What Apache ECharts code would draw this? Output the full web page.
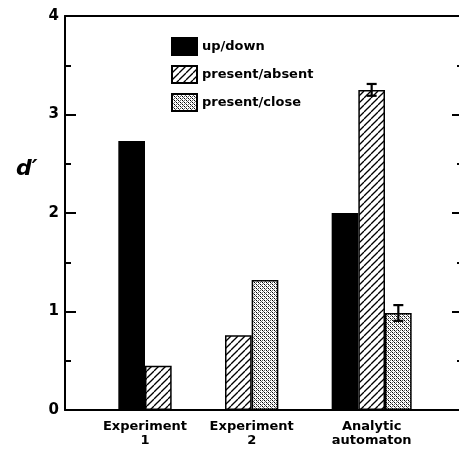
<!DOCTYPE html>
<html><head><meta charset="utf-8">
<script src="https://cdn.jsdelivr.net/npm/echarts@6/dist/echarts.min.js"></script>
<style>html,body{margin:0;padding:0;background:#fff}#c{width:459px;height:454px}</style>
</head><body><div id="c"></div>
<script>
const categories = ['Experiment\n1', 'Experiment\n2', 'Analytic\nautomaton'];
const seriesNames = ['up/down', 'present/absent', 'present/close'];
const upDown = [2.73, null, 2.0];
const presentAbsent = [0.45, 0.76, 3.25];
const presentClose = [null, 1.32, 0.985];
const presentAbsentErr = [null, null, 0.06];
const presentCloseErr = [null, null, 0.08];
const yTicks = [0, 1, 2, 3, 4];

const values = [upDown, presentAbsent, presentClose];
const errs = [null, presentAbsentErr, presentCloseErr];

const MARGIN = 2, GAP = 2;
let pos = MARGIN;
const barData = [[], [], []];
const errData = [];
const labelPos = [];
categories.forEach((c, g) => {
  const xs = [];
  values.forEach((arr, s) => {
    if (arr[g] != null) {
      const x = pos + 0.5;
      barData[s].push([x, arr[g]]);
      xs.push(x);
      if (errs[s] && errs[s][g] != null) errData.push([x, arr[g] - errs[s][g], arr[g] + errs[s][g]]);
      pos++;
    }
  });
  labelPos.push((xs[0] + xs[xs.length - 1]) / 2);
  pos += GAP;
});
const xMax = pos;

function makePattern(kind) {
  const cv = document.createElement('canvas');
  const ctx = cv.getContext('2d');
  if (kind === 'hatch') {
    const n = 7;
    cv.width = n; cv.height = n;
    ctx.fillStyle = '#fff'; ctx.fillRect(0, 0, n, n);
    ctx.strokeStyle = '#000'; ctx.lineWidth = 1.3;
    for (let k = -1; k <= 1; k++) {
      ctx.beginPath();
      ctx.moveTo(k * n, n);
      ctx.lineTo(k * n + n, 0);
      ctx.stroke();
    }
  } else {
    const n = 4;
    cv.width = n; cv.height = n;
    ctx.fillStyle = '#fff'; ctx.fillRect(0, 0, n, n);
    ctx.fillStyle = '#000';
    ctx.fillRect(0, 0, 1, 1); ctx.fillRect(2, 2, 1, 1);
    ctx.fillStyle = '#666';
    ctx.fillRect(1, 1, 1, 1); ctx.fillRect(3, 3, 1, 1);
    ctx.fillRect(2, 0, 1, 1); ctx.fillRect(0, 2, 1, 1);
  }
  return { image: cv, repeat: 'repeat' };
}

const fills = ['#000', makePattern('hatch'), makePattern('cross')];
const gridLeft = 65, gridRight = 465, gridTop = 16, gridBottom = 410;
const barW = (gridRight - gridLeft) / xMax;
const FONT = 'DejaVu Sans';

const chart = echarts.init(document.getElementById('c'), null, { renderer: 'canvas' });
const series = seriesNames.map((name, s) => ({
  name, type: 'bar', data: barData[s], barWidth: barW, barGap: '-100%',
  itemStyle: { color: fills[s], borderColor: '#000', borderWidth: 1.5 },
  emphasis: { disabled: true }, animation: false
}));
series.push({
  type: 'custom', name: 'err', data: errData, animation: false, z: 10,
  renderItem(params, api) {
    const x = api.value(0);
    const lo = api.coord([x, api.value(1)]);
    const hi = api.coord([x, api.value(2)]);
    const hw = 5;
    const st = { stroke: '#000', lineWidth: 2.2 };
    return { type: 'group', children: [
      { type: 'line', shape: { x1: lo[0], y1: lo[1], x2: hi[0], y2: hi[1] }, style: st },
      { type: 'line', shape: { x1: lo[0] - hw, y1: lo[1], x2: lo[0] + hw, y2: lo[1] }, style: st },
      { type: 'line', shape: { x1: hi[0] - hw, y1: hi[1], x2: hi[0] + hw, y2: hi[1] }, style: st }
    ]};
  }
});

const lineSt = { show: true, onZero: false, lineStyle: { color: '#000', width: 2 } };
const tickSt = len => ({ show: true, inside: true, length: len, lineStyle: { color: '#000', width: 2 } });
const minorSt = len => ({ show: true, splitNumber: 2, length: len, lineStyle: { color: '#000', width: 2 } });

chart.setOption({
  animation: false,
  grid: { left: gridLeft, top: gridTop, width: gridRight - gridLeft, height: gridBottom - gridTop,
    containLabel: false, outerBoundsMode: 'none' },
  legend: {
    data: seriesNames, orient: 'vertical', left: 171, top: 37, padding: 0,
    itemWidth: 25, itemHeight: 17, itemGap: 9, selectedMode: false,
    textStyle: { fontFamily: FONT, fontWeight: 'bold', fontSize: 13, color: '#000' },
    icon: 'rect'
  },
  xAxis: [{
    type: 'value', min: 0, max: xMax, interval: 0.5, position: 'bottom',
    axisLine: lineSt, axisTick: { show: false }, splitLine: { show: false },
    axisLabel: {
      margin: 10, fontFamily: FONT, fontWeight: 'bold', fontSize: 13, color: '#000', lineHeight: 14,
      showMinLabel: true, showMaxLabel: true,
      formatter: v => { const i = labelPos.findIndex(p => Math.abs(p - v) < 1e-6); return i >= 0 ? categories[i] : ''; }
    }
  }, {
    type: 'value', min: 0, max: xMax, position: 'top',
    axisLine: lineSt, axisTick: { show: false }, axisLabel: { show: false }, splitLine: { show: false }
  }],
  yAxis: [{
    type: 'value', min: 0, max: 4, interval: 1, position: 'left',
    axisLine: lineSt, axisTick: tickSt(11), minorTick: minorSt(6), splitLine: { show: false },
    axisLabel: { margin: 6, fontFamily: FONT, fontWeight: 'bold', fontSize: 15, color: '#000',
      formatter: v => yTicks.includes(v) ? String(v) : '' }
  }, {
    type: 'value', min: 0, max: 4, interval: 1, position: 'right',
    axisLine: lineSt, axisTick: tickSt(13), minorTick: minorSt(8), splitLine: { show: false },
    axisLabel: { show: false }
  }],
  graphic: [{
    type: 'text', left: 16, top: 158,
    style: { text: 'd′', font: 'italic bold 22px "DejaVu Sans"', fill: '#000' }
  }],
  series
});
</script></body></html>
